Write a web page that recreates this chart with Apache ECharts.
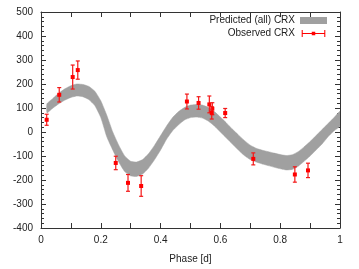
<!DOCTYPE html>
<html><head><meta charset="utf-8">
<script src="https://cdn.jsdelivr.net/npm/echarts@6/dist/echarts.min.js"></script>
<style>html,body{margin:0;padding:0;background:#fff}#c{width:359px;height:269px}</style>
</head><body><div id="c"></div>
<script>
// Predicted band (phase, lower, upper)
const bandPhase = [0.02,0.04,0.06,0.08,0.10,0.12,0.14,0.16,0.18,0.20,0.22,0.24,0.26,0.28,0.30,0.32,0.34,0.36,0.38,0.40,0.42,0.44,0.46,0.48,0.50,0.52,0.54,0.56,0.58,0.60,0.62,0.64,0.66,0.68,0.70,0.72,0.74,0.76,0.78,0.80,0.82,0.84,0.86,0.88,0.90,0.92,0.94,0.96,0.98,1.00];
const bandLower = [80,100,118,133,144,150,147,135,110,60,-20,-75,-125,-165,-183,-185,-175,-150,-115,-75,-30,5,30,50,60,62,58,45,25,0,-25,-50,-75,-98,-115,-125,-133,-140,-147,-153,-158,-156,-143,-122,-100,-75,-50,-20,5,25];
const bandUpper = [118,140,162,180,193,200,198,190,170,130,70,0,-55,-100,-122,-125,-115,-90,-55,-15,25,60,85,102,112,115,112,102,85,62,38,12,-12,-35,-55,-68,-76,-82,-88,-94,-98,-95,-82,-62,-40,-15,10,35,60,86];
// Observed points
const obsPhase = [0.019,0.061,0.106,0.123,0.250,0.291,0.335,0.488,0.527,0.563,0.573,0.571,0.616,0.710,0.849,0.893];
const obsValue = [51,155,229,258,-129,-212,-225,127,121,115,97,80,79,-112,-177,-160];
const obsErr   = [23,30,50,38,28,35,43,31,26,35,25,26,19,25,32,30];
const xTicks = [0,0.2,0.4,0.6,0.8,1];
const yTicks = [-400,-300,-200,-100,0,100,200,300,400,500];

const FONT = 'Liberation Sans, Arial, Helvetica, sans-serif';
const bandData = bandPhase.map((p,i)=>[p,bandLower[i],bandUpper[i]]);
const obsData = obsPhase.map((p,i)=>[p,obsValue[i],obsErr[i]]);

const chart = echarts.init(document.getElementById('c'), null, {renderer:'canvas'});
const axisCommon = {
  axisLine:{show:true,onZero:false,lineStyle:{color:'#333',width:1}},
  splitLine:{show:false}
};
chart.setOption({
  animation:false,
  textStyle:{fontFamily:FONT},
  grid:{left:41,right:19,top:12,bottom:40,containLabel:false},
  legend:{
    orient:'vertical', right:32, top:15, align:'right', itemGap:2, padding:0,
    itemWidth:27, itemHeight:7,
    textStyle:{fontFamily:FONT,fontSize:10,color:'#222',lineHeight:11},
    data:[
      {name:'Predicted (all) CRX', icon:'rect'},
      {name:'Observed CRX', icon:'path://M0,3.4L27,3.4L27,4.6L0,4.6Z M0,0L1.2,0L1.2,8L0,8Z M25.8,0L27,0L27,8L25.8,8Z M11.5,2L15.5,2L15.5,6L11.5,6Z'}
    ],
    selectedMode:false
  },
  xAxis:[
    Object.assign({type:'value',min:0,max:1,interval:0.2,position:'bottom',
      axisTick:{show:true,inside:true,length:5,lineStyle:{color:'#333'}},
      minorTick:{show:true,splitNumber:2,length:5,lineStyle:{color:'#333'}},
      axisLabel:{show:true,fontSize:10,color:'#222',margin:7,fontFamily:FONT},
      name:'Phase [d]',nameLocation:'middle',nameGap:26,
      nameTextStyle:{fontSize:10,color:'#222',fontFamily:FONT}},axisCommon),
    Object.assign({type:'value',min:0,max:1,interval:0.2,position:'top',
      axisTick:{show:true,inside:true,length:5,lineStyle:{color:'#333'}},
      minorTick:{show:true,splitNumber:2,length:5,lineStyle:{color:'#333'}},
      axisLabel:{show:false}},axisCommon)
  ],
  yAxis:[
    Object.assign({type:'value',min:-400,max:500,interval:100,position:'left',
      axisTick:{show:true,inside:true,length:5,lineStyle:{color:'#333'}},
      minorTick:{show:true,splitNumber:5,length:3,lineStyle:{color:'#333'}},
      axisLabel:{show:true,fontSize:10,color:'#222',margin:8,fontFamily:FONT}},axisCommon),
    Object.assign({type:'value',min:-400,max:500,interval:100,position:'right',
      axisTick:{show:true,inside:true,length:5,lineStyle:{color:'#333'}},
      minorTick:{show:true,splitNumber:5,length:3,lineStyle:{color:'#333'}},
      axisLabel:{show:false}},axisCommon)
  ],
  series:[
    {
      name:'Predicted (all) CRX', type:'custom', data:bandData,
      encode:{x:0,y:[1,2]}, itemStyle:{color:'#a0a0a0'}, clip:true, silent:true,
      renderItem:function(params, api){
        if (params.dataIndex !== 0) return null;
        const pts=[];
        for (let i=0;i<bandPhase.length;i++) pts.push(api.coord([bandPhase[i],bandUpper[i]]));
        for (let i=bandPhase.length-1;i>=0;i--) pts.push(api.coord([bandPhase[i],bandLower[i]]));
        return {type:'polygon', shape:{points:pts, smooth:0.15}, style:{fill:'#a0a0a0',stroke:'#a0a0a0',lineWidth:0.5}};
      }
    },
    {
      name:'Observed CRX', type:'custom', data:obsData,
      encode:{x:0,y:1}, itemStyle:{color:'#ff0000'}, silent:true,
      renderItem:function(params, api){
        const x=api.value(0), y=api.value(1), e=api.value(2);
        const t=api.coord([x,y+e]), b=api.coord([x,y-e]), c=api.coord([x,y]);
        const cw=2;
        const st={stroke:'#f31818',lineWidth:1.2};
        return {type:'group',children:[
          {type:'line',shape:{x1:t[0],y1:t[1],x2:b[0],y2:b[1]},style:st},
          {type:'line',shape:{x1:t[0]-cw,y1:t[1],x2:t[0]+cw,y2:t[1]},style:st},
          {type:'line',shape:{x1:b[0]-cw,y1:b[1],x2:b[0]+cw,y2:b[1]},style:st},
          {type:'rect',shape:{x:c[0]-2,y:c[1]-2,width:4,height:4},style:{fill:'#ff0000'}}
        ]};
      }
    }
  ]
});
</script></body></html>
